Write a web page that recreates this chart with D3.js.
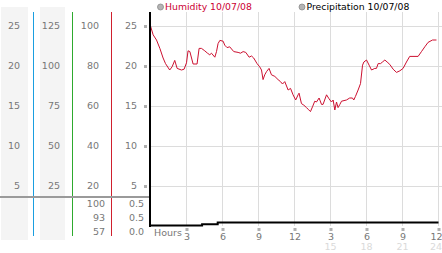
<!DOCTYPE html>
<html>
<head>
<meta charset="utf-8">
<script src="https://cdn.jsdelivr.net/npm/d3@7"></script>
<style>
  body { margin: 0; background: #fff; }
  svg { display: block; font-family: 'DejaVu Sans', sans-serif; }
</style>
</head>
<body>
<div id="chart"></div>
<script>
// humidity readings, hours since midnight 10/07/08
var humHours = [0, 0.22, 0.5, 0.78, 1.05, 1.25, 1.6, 1.8, 2.02, 2.22, 2.58, 2.8, 3.0, 3.13, 3.28, 3.42, 3.55, 3.88,
  4.05, 4.25, 4.52, 4.75, 4.94, 5.08, 5.36, 5.5, 5.63, 5.78, 6.05, 6.19, 6.38, 6.6, 6.94, 7.3, 7.5, 7.72, 7.94,
  8.22, 8.42, 8.6, 8.88, 9.1, 9.25, 9.38, 9.52, 9.67, 9.88, 10.08, 10.36, 10.63, 10.83, 11.0, 11.19, 11.47, 11.67,
  11.88, 12.1, 12.3, 12.38, 12.58, 12.78, 13.0, 13.13, 13.33, 13.5, 13.69, 13.83, 14.05, 14.25, 14.38, 14.67,
  14.88, 15.08, 15.22, 15.36, 15.5, 15.63, 15.78, 15.92, 16.33, 16.6, 16.83, 16.94, 17.08, 17.3, 17.5, 17.67,
  17.78, 18.0, 18.22, 18.42, 18.69, 18.83, 18.97, 19.17, 19.33, 19.53, 19.72, 19.94, 20.22, 20.5, 20.78, 21.05,
  21.33, 21.6, 22.3, 22.58, 22.86, 23.13, 23.5, 23.83]
var humidity = [25, 23.9, 23.25, 22.2, 21, 20.3, 19.5, 19.9, 20.7, 19.7, 19.5, 19.6, 20.4, 21.9, 21.8, 21, 20.25, 20.25,
  22.2, 22.2, 21.9, 21.6, 21.4, 21.6, 21.1, 21.8, 22.8, 23.2, 23.1, 22.6, 22.3, 22.4, 21.8, 21.7, 21.6, 21.8, 21.7,
  21.1, 21.25, 21, 20.3, 19.9, 19.5, 18.3, 18.9, 19.3, 19.7, 18.9, 18.7, 18.3, 18.05, 17.75, 18.05, 17, 17.2,
  16.4, 15.75, 16.4, 16.6, 15.3, 15.1, 14.8, 14.6, 14.3, 14.9, 15.6, 15.5, 16, 15.2, 15.2, 16.4,
  15.9, 15.5, 15.75, 14.5, 15.5, 14.8, 15.2, 15.6, 15.75, 16, 16, 15.75, 16.2, 17, 17.8, 20.1,
  20.5, 20.75, 20.1, 19.5, 19.7, 19.7, 20.3, 20.3, 20.5, 20.75, 20.5, 20.2, 19.6, 19.2, 19.4, 19.7,
  20.5, 21.2, 21.2, 21.8, 22.4, 22.95, 23.25, 23.25]

// precipitation (step line)
var precipHours = [0, 4.3, 5.6, 24]
var precip = [0, 0.02, 0.05, 0.05]

// axis ticks and labels
var yTicks = [25, 20, 15, 10, 5]
var col1Labels = ['25', '20', '15', '10', '5']
var col2Labels = ['125', '100', '75', '50', '25']
var col3Labels = ['100', '80', '60', '40', '20']
var col4Labels = ['25', '20', '15', '10', '5']
var col3Lower = ['100', '93', '57']
var col4Lower = ['0.5', '0.5', '0.0']
var xTicks = [3, 6, 9, 12, 15, 18, 21, 24]
var xLabels = ['3', '6', '9', '12', '3', '6', '9', '12']
var xLabels2 = ['', '', '', '', '15', '18', '21', '24']

var width = 442
var height = 253

var svg = d3.select('#chart')
  .append('svg')
  .attr('width', width)
  .attr('height', height)

var xPositionScale = d3.scaleLinear().domain([0, 24]).range([150.5, 438.5])
var yPositionScale = d3.scaleLinear().domain([0, 25]).range([226, 26])
var precipScale = d3.scaleLinear().domain([0, 0.5]).range([225.5, 195.5])

// left scale columns
svg.append('rect').attr('x', 1).attr('y', 7).attr('width', 27).attr('height', 233).attr('fill', '#f4f4f4')
svg.append('rect').attr('x', 40).attr('y', 7).attr('width', 25).attr('height', 233).attr('fill', '#f4f4f4')

var colLines = [
  { x: 33, color: '#1a9ee0' },
  { x: 72, color: '#2eaa2e' },
  { x: 111, color: '#d0202e' }
]
svg.selectAll('.col-line')
  .data(colLines)
  .enter()
  .append('rect')
  .attr('class', 'col-line')
  .attr('x', d => d.x)
  .attr('y', 12)
  .attr('width', 1)
  .attr('height', 224)
  .attr('fill', d => d.color)
  .attr('shape-rendering', 'crispEdges')

svg.append('line')
  .attr('x1', 0).attr('x2', 149)
  .attr('y1', 197).attr('y2', 197)
  .attr('stroke', '#9a9a9a')
  .attr('stroke-width', 2)

var columns = [
  { labels: col1Labels, x: 20 },
  { labels: col2Labels, x: 60 },
  { labels: col3Labels, x: 99 },
  { labels: col4Labels, x: 137 }
]
columns.forEach(function(col) {
  svg.append('g')
    .selectAll('text')
    .data(col.labels)
    .enter()
    .append('text')
    .text(d => d)
    .attr('x', col.x)
    .attr('y', (d, i) => yPositionScale(yTicks[i]))
    .attr('dy', '0.35em')
    .attr('text-anchor', 'end')
    .attr('font-size', 9.5)
    .attr('fill', '#777')
})

var lowerScale = d3.scalePoint().domain([0, 1, 2]).range([204, 232])
var lowerCols = [
  { labels: col3Lower, x: 105 },
  { labels: col4Lower, x: 144 }
]
lowerCols.forEach(function(col) {
  svg.append('g')
    .selectAll('text')
    .data(col.labels)
    .enter()
    .append('text')
    .text(d => d)
    .attr('x', col.x)
    .attr('y', (d, i) => lowerScale(i))
    .attr('dy', '0.35em')
    .attr('text-anchor', 'end')
    .attr('font-size', 9.5)
    .attr('fill', '#777')
})

// gridlines
svg.append('g')
  .selectAll('line')
  .data(yTicks)
  .enter()
  .append('line')
  .attr('x1', 150)
  .attr('x2', width)
  .attr('y1', d => Math.round(yPositionScale(d)) + 0.5)
  .attr('y2', d => Math.round(yPositionScale(d)) + 0.5)
  .attr('stroke', '#dcdcdc')

svg.append('g')
  .selectAll('line')
  .data(xTicks)
  .enter()
  .append('line')
  .attr('x1', d => Math.round(xPositionScale(d)) - 0.5)
  .attr('x2', d => Math.round(xPositionScale(d)) - 0.5)
  .attr('y1', 12)
  .attr('y2', 226)
  .attr('stroke', '#dcdcdc')

// y tick marks
svg.append('g')
  .selectAll('rect')
  .data(yTicks)
  .enter()
  .append('rect')
  .attr('x', 144)
  .attr('y', d => Math.round(yPositionScale(d)) - 1)
  .attr('width', 3)
  .attr('height', 3)
  .attr('fill', '#b0b0b0')

// humidity line
var humData = humHours.map((h, i) => ({ h: h, v: humidity[i] }))
var line = d3.line()
  .x(d => xPositionScale(d.h))
  .y(d => yPositionScale(d.v))
svg.append('path')
  .datum(humData)
  .attr('d', line)
  .attr('fill', 'none')
  .attr('stroke', '#cc1030')
  .attr('stroke-width', 1)

// precipitation line
var precipData = precipHours.map((h, i) => ({ h: h, v: precip[i] }))
var stepLine = d3.line()
  .curve(d3.curveStepAfter)
  .x(d => xPositionScale(d.h))
  .y(d => precipScale(d.v))
svg.append('path')
  .datum(precipData)
  .attr('d', stepLine)
  .attr('fill', 'none')
  .attr('stroke', '#000')
  .attr('stroke-width', 2)

// y axis line
svg.append('line')
  .attr('x1', 150).attr('x2', 150)
  .attr('y1', 12).attr('y2', 227)
  .attr('stroke', '#000')
  .attr('stroke-width', 2)

// x axis labels
var lastTick = xTicks[xTicks.length - 1]
var xAxis = d3.axisBottom(xPositionScale)
  .tickValues(xTicks)
  .tickSize(0)
  .tickPadding(0)
  .tickFormat((d, i) => xLabels[i])
var xg = svg.append('g')
  .attr('class', 'axis x-axis')
  .attr('transform', 'translate(0, 233)')
  .call(xAxis)
xg.select('.domain').remove()
xg.selectAll('text')
  .attr('font-family', 'DejaVu Sans')
  .attr('font-size', 9.5)
  .attr('fill', '#777')
  .attr('text-anchor', d => d === lastTick ? 'end' : 'middle')
  .attr('x', d => d === lastTick ? width - xPositionScale(d) : 0)

xg.selectAll('.tick')
  .append('rect')
  .attr('x', -1.5)
  .attr('y', -5)
  .attr('width', 3)
  .attr('height', 3)
  .attr('fill', '#b0b0b0')

svg.append('g')
  .selectAll('text')
  .data(xTicks)
  .enter()
  .append('text')
  .text((d, i) => xLabels2[i])
  .attr('x', d => d === lastTick ? width : xPositionScale(d))
  .attr('y', 247)
  .attr('dy', '0.35em')
  .attr('text-anchor', d => d === lastTick ? 'end' : 'middle')
  .attr('font-size', 9.5)
  .attr('fill', '#dadada')

svg.append('text')
  .text('Hours')
  .attr('x', 154)
  .attr('y', 233)
  .attr('dy', '0.35em')
  .attr('font-size', 9.5)
  .attr('fill', '#777')

// legend
var legend = [
  { label: 'Humidity 10/07/08', x: 160.5, color: '#cc0033' },
  { label: 'Precipitation 10/07/08', x: 302, color: '#000' }
]
var lg = svg.selectAll('.legend')
  .data(legend)
  .enter()
  .append('g')
  .attr('class', 'legend')
  .attr('transform', d => `translate(${d.x}, 7)`)
lg.append('circle')
  .attr('r', 3)
  .attr('fill', '#b4b4b4')
  .attr('stroke', '#8c8c8c')
  .attr('stroke-width', 0.8)
lg.append('text')
  .text(d => d.label)
  .attr('x', 4.5)
  .attr('dy', '0.35em')
  .attr('font-size', 9.3)
  .attr('fill', d => d.color)
</script>
</body>
</html>
